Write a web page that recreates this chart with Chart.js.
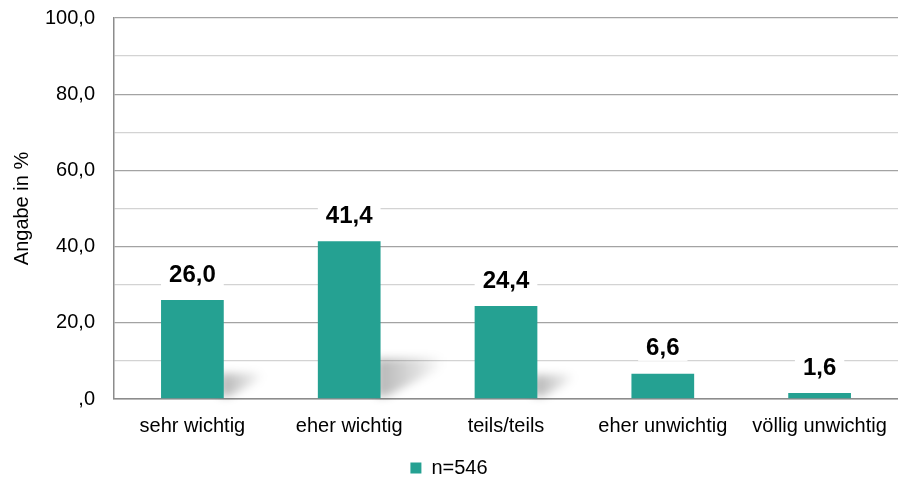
<!DOCTYPE html>
<html>
<head>
<meta charset="utf-8">
<script src="https://cdn.jsdelivr.net/npm/chart.js@4.4.0/dist/chart.umd.min.js"></script>
<style>
  html, body { margin: 0; padding: 0; background: #fff; }
  #wrap { width: 898px; height: 480px; }
</style>
</head>
<body>
<div id="wrap"><canvas id="chart"></canvas></div>
<script>
const categories = ['sehr wichtig', 'eher wichtig', 'teils/teils', 'eher unwichtig', 'völlig unwichtig'];
const values = [26.0, 41.4, 24.4, 6.6, 1.6];
const seriesLabel = 'n=546';
const yTicks = [0, 20, 40, 60, 80, 100];

const teal = '#25a192';

function fmt(v) {
    // deutsches Format, 0 wird wie im Original zu ",0"
    if (v === 0) return ',0';
    return v.toFixed(1).replace('.', ',');
}

// weicher Schatten rechts unten an den Balken
const barShadow = {
    id: 'barShadow',
    beforeDatasetsDraw(chart) {
        const ctx = chart.ctx;
        const meta = chart.getDatasetMeta(0);
        ctx.save();
        ctx.filter = 'blur(4px)';
        meta.data.forEach(function (bar) {
            const p = bar.getProps(['x', 'y', 'base', 'width'], true);
            const h = p.base - p.y;
            const right = p.x + p.width / 2;
            const sh = h * 0.25;
            const ext = h * 0.4;
            if (h < 30) return;
            const g = ctx.createLinearGradient(right, 0, right + ext, 0);
            g.addColorStop(0, 'rgba(0,0,0,0.28)');
            g.addColorStop(0.6, 'rgba(0,0,0,0.12)');
            g.addColorStop(1, 'rgba(0,0,0,0)');
            ctx.fillStyle = g;
            ctx.beginPath();
            ctx.moveTo(right - 4, p.base - 2);
            ctx.lineTo(right - 4, p.base - sh);
            ctx.lineTo(right + ext, p.base - sh * 1.05);
            ctx.lineTo(right + ext, p.base - sh * 0.8);
            ctx.lineTo(right + 6, p.base - 2);
            ctx.closePath();
            ctx.fill();
        });
        ctx.restore();
    }
};

// Werte über den Balken mit weißem Hintergrund
const valueLabels = {
    id: 'valueLabels',
    afterDatasetsDraw(chart) {
        const ctx = chart.ctx;
        const meta = chart.getDatasetMeta(0);
        ctx.save();
        ctx.font = 'bold 24px "Liberation Sans", Arial, sans-serif';
        ctx.textAlign = 'center';
        ctx.textBaseline = 'middle';
        meta.data.forEach(function (bar, i) {
            const txt = fmt(values[i]);
            const w = ctx.measureText(txt).width + 16;
            const cy = bar.y - 25;
            ctx.fillStyle = '#ffffff';
            ctx.fillRect(bar.x - w / 2, cy - 12, w, 24);
            ctx.fillStyle = '#000000';
            ctx.fillText(txt, bar.x, cy);
        });
        ctx.restore();
    }
};

Chart.defaults.font.family = '"Liberation Sans", Arial, sans-serif';
Chart.defaults.color = '#000000';

new Chart(document.getElementById('chart'), {
    type: 'bar',
    data: {
        labels: categories,
        datasets: [{
            label: seriesLabel,
            data: values,
            backgroundColor: teal,
            categoryPercentage: 1.0,
            barPercentage: 0.4
        }]
    },
    options: {
        responsive: true,
        maintainAspectRatio: false,
        animation: false,
        layout: { padding: { top: 18, right: 0, left: 0, bottom: -8 } },
        plugins: {
            legend: {
                position: 'bottom',
                labels: {
                    boxWidth: 11,
                    boxHeight: 11,
                    padding: 5,
                    font: { size: 20 },
                    color: '#000'
                }
            },
            tooltip: { enabled: false }
        },
        scales: {
            x: {
                grid: { display: false },
                border: { color: '#8c8c8c', width: 1.5 },
                ticks: { font: { size: 20 }, padding: 7, maxRotation: 0, autoSkip: false },
                afterFit(scale) {
                    scale.paddingLeft = 0;
                    scale.paddingRight = 0;
                    scale.height += 8;
                }
            },
            y: {
                min: 0,
                max: 100,
                border: { color: '#8c8c8c', width: 1.5 },
                grid: {
                    drawTicks: false,
                    lineWidth: 1.3,
                    color(ctx) {
                        return yTicks.includes(ctx.tick.value) ? '#a3a3a3' : '#d3d3d3';
                    }
                },
                ticks: {
                    stepSize: 10,
                    padding: 19,
                    font: { size: 20 },
                    callback(v) {
                        return yTicks.includes(v) ? fmt(v) : '';
                    }
                },
                title: {
                    display: true,
                    text: 'Angabe in %',
                    font: { size: 20 },
                    padding: { top: 10, bottom: 0 }
                },
                afterFit(scale) {
                    scale.width = 114;
                    scale.paddingTop = 0;
                    scale.paddingBottom = 0;
                }
            }
        }
    },
    plugins: [barShadow, valueLabels]
});
</script>
</body>
</html>
